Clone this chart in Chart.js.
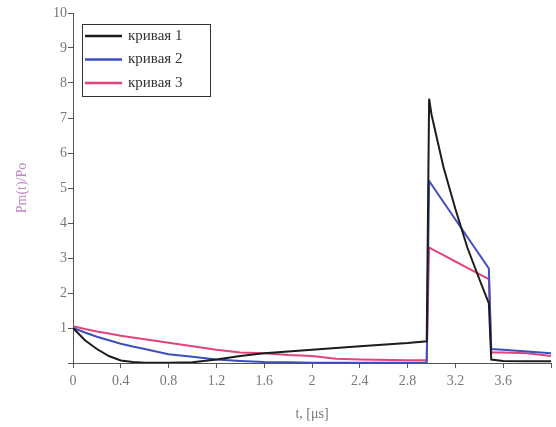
<!DOCTYPE html>
<html>
<head>
  <title>Pm(t)/Po</title>
  <script src="https://cdn.jsdelivr.net/npm/chart.js"></script>
  <style>
    html, body { margin: 0; padding: 0; background: #fff; }
  </style>
</head>
<body>
  <canvas id="myChart" width="556" height="427"></canvas>

  <script>
    // time points, microseconds
    const tValues = [0, 0.1, 0.2, 0.3, 0.4, 0.5, 0.6, 0.8, 1.0, 1.2, 1.4, 1.6, 1.8, 2.0, 2.2, 2.4, 2.8, 2.96,
                     2.98, 3.0, 3.1, 3.2, 3.3, 3.4, 3.48, 3.5, 3.6, 3.8, 4.0];
    const curve1 = [1.0, 0.65, 0.4, 0.2, 0.07, 0.03, 0.01, 0.01, 0.02, 0.1, 0.2, 0.28, 0.33, 0.38, 0.43, 0.48, 0.57, 0.62,
                    7.55, 7.1, 5.6, 4.4, 3.3, 2.4, 1.7, 0.1, 0.06, 0.05, 0.05];
    const curve2 = [1.0, 0.87, 0.75, 0.65, 0.55, 0.47, 0.4, 0.25, 0.18, 0.1, 0.06, 0.03, 0.02, 0.01, 0.01, 0.01, 0.01, 0.01,
                    5.2, 5.1, 4.6, 4.1, 3.6, 3.1, 2.7, 0.4, 0.38, 0.33, 0.28];
    const curve3 = [1.05, 0.97, 0.9, 0.84, 0.78, 0.73, 0.68, 0.58, 0.48, 0.38, 0.3, 0.28, 0.23, 0.2, 0.12, 0.1, 0.08, 0.08,
                    3.3, 3.26, 3.08, 2.9, 2.72, 2.54, 2.4, 0.3, 0.3, 0.28, 0.2];
    const seriesLabels = ['кривая 1', 'кривая 2', 'кривая 3'];
    const seriesColors = ['#1c1c1c', '#3b4fbf', '#e2437e'];

    const toPoints = (ys) => ys.map((y, i) => ({ x: tValues[i], y: y }));
    const seriesValues = [curve1, curve2, curve3];

    const serif = "'Liberation Serif', 'DejaVu Serif', serif";

    // legend drawn as a framed box in the upper left of the plot
    const boxLegend = {
      id: 'boxLegend',
      afterDraw(chart) {
        const ctx = chart.ctx;
        ctx.save();
        ctx.strokeStyle = '#333';
        ctx.lineWidth = 1;
        ctx.strokeRect(82.5, 24.5, 128, 72);
        ctx.font = '15px ' + serif;
        ctx.textBaseline = 'middle';
        chart.data.datasets.forEach((ds, i) => {
          const y = 36 + i * 23.5;
          ctx.strokeStyle = ds.borderColor;
          ctx.lineWidth = 2.5;
          ctx.beginPath();
          ctx.moveTo(85, y);
          ctx.lineTo(122, y);
          ctx.stroke();
          ctx.fillStyle = '#333';
          ctx.fillText(ds.label, 128, y);
        });
        ctx.restore();
      }
    };

    const ctx = document.getElementById('myChart').getContext('2d');
    const myChart = new Chart(ctx, {
      type: 'line',
      data: {
        datasets: seriesValues.map((vals, i) => ({
          label: seriesLabels[i],
          data: toPoints(vals),
          borderColor: seriesColors[i],
          borderWidth: 2,
          pointRadius: 0,
          fill: false,
          tension: 0
        }))
      },
      options: {
        responsive: false,
        animation: false,
        layout: { padding: { top: 13, right: 3 } },
        plugins: {
          legend: { display: false },
          tooltip: { enabled: false }
        },
        scales: {
          x: {
            type: 'linear',
            min: 0,
            max: 4,
            afterFit: (scale) => { scale.height = 64; },
            grid: { drawOnChartArea: false, tickLength: 5, color: '#555' },
            border: { color: '#555', width: 1 },
            ticks: {
              stepSize: 0.4,
              color: '#777',
              font: { family: serif, size: 14 },
              padding: 5,
              maxRotation: 0,
              callback: (v) => Math.abs(v - 4) < 1e-6 ? '' : String(Math.round(v * 10) / 10)
            },
            title: {
              display: true,
              text: 't, [μs]',
              color: '#777',
              font: { family: serif, size: 14 },
              padding: { top: 15 }
            }
          },
          y: {
            min: 0,
            max: 10,
            afterFit: (scale) => { scale.width = 73; },
            grid: { drawOnChartArea: false, tickLength: 5, color: '#555' },
            border: { color: '#555', width: 1 },
            ticks: {
              stepSize: 1,
              color: '#777',
              font: { family: serif, size: 14 },
              padding: 1,
              callback: (v) => v === 0 ? '' : String(v)
            },
            title: {
              display: true,
              text: 'Pm(t)/Po',
              color: '#bf86c6',
              font: { family: serif, size: 14 },
              padding: { top: 14, bottom: 4 }
            }
          }
        }
      },
      plugins: [boxLegend]
    });
  </script>
</body>
</html>
